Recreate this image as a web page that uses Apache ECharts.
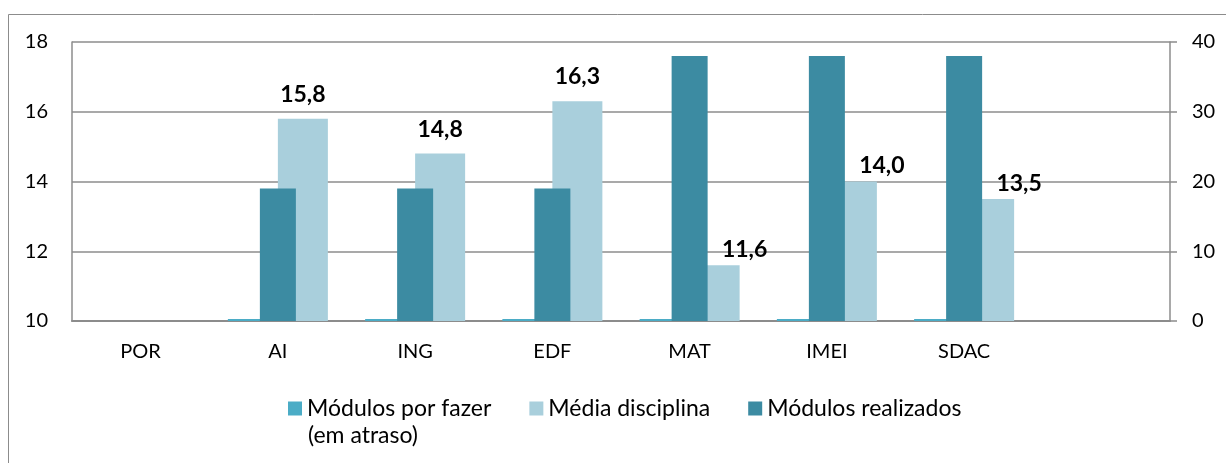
<!DOCTYPE html>
<html>
<head>
<meta charset="utf-8">
<script src="https://cdn.jsdelivr.net/npm/echarts@6/dist/echarts.min.js"></script>
<style>
  html, body { margin: 0; padding: 0; background: #fff; }
  #chart { width: 1226px; height: 463px; }
</style>
</head>
<body>
<div id="chart"></div>
<script>
const categories = ['POR', 'AI', 'ING', 'EDF', 'MAT', 'IMEI', 'SDAC', '']
const modulosPorFazer = [null, 0, 0, 0, 0, 0, 0, null]
const mediaDisciplina = [null, 15.8, 14.8, 16.3, 11.6, 14.0, 13.5, null]
const modulosRealizados = [null, 19, 19, 19, 38, 38, 38, null]
const leftTicks = { min: 10, max: 18, interval: 2 }
const rightTicks = { min: 0, max: 40, interval: 10 }

const FONT = 'Lato'
const GRID_COLOR = '#8c8c8c'

const chart = echarts.init(document.getElementById('chart'))

// labels of the light bars move right when the dark bar hides them
const mediaData = mediaDisciplina.map((v, i) => {
  if (v == null) return v
  const lightH = (v - leftTicks.min) / (leftTicks.max - leftTicks.min)
  const darkH = modulosRealizados[i] / rightTicks.max
  const hidden = darkH > lightH
  return {
    value: v,
    label: { offset: hidden ? [30, 1] : [0, -8] },
  }
})

const option = {
  animation: false,
  backgroundColor: '#fff',
  textStyle: { fontFamily: FONT },
  grid: { left: 72, right: 56, top: 42, bottom: 142 },
  legend: {
    left: 288,
    top: 397,
    padding: 0,
    itemWidth: 14,
    itemHeight: 14,
    itemGap: 38,
    icon: 'rect',
    data: ['Módulos por fazer (em atraso)', 'Média disciplina', 'Módulos realizados'],
    formatter: (name) => name.replace(' (em atraso)', ''),
    textStyle: { fontFamily: FONT, fontSize: 23, color: '#000' },
  },
  graphic: [
    {
      type: 'rect',
      shape: { x: 8.5, y: 14.5, width: 1400, height: 600 },
      style: { fill: 'none', stroke: '#8c8c8c', lineWidth: 1 },
      silent: true,
      z: -1,
    },
    {
      type: 'text',
      left: 308,
      top: 424,
      style: { text: '(em atraso)', font: '23px ' + FONT, fill: '#000' },
    },
  ],
  xAxis: [
    {
      type: 'category',
      data: categories,
      axisLine: { lineStyle: { color: GRID_COLOR, width: 2 } },
      axisTick: { show: false },
      axisLabel: { fontFamily: FONT, fontSize: 20, color: '#000', margin: 21 },
    },
    {
      type: 'category',
      data: categories,
      show: false,
    },
  ],
  yAxis: [
    {
      type: 'value',
      ...leftTicks,
      axisLine: { show: true, lineStyle: { color: GRID_COLOR, width: 1.5 } },
      axisTick: { show: false },
      splitLine: { lineStyle: { color: GRID_COLOR, width: 1.5 } },
      axisLabel: { fontFamily: FONT, fontSize: 20, color: '#000', margin: 24 },
    },
    {
      type: 'value',
      position: 'right',
      ...rightTicks,
      axisLine: { show: true, lineStyle: { color: GRID_COLOR, width: 1.5 } },
      axisTick: { show: true, length: 7, lineStyle: { color: GRID_COLOR, width: 1.5 } },
      splitLine: { show: false },
      axisLabel: { fontFamily: FONT, fontSize: 20, color: '#000', margin: 22 },
    },
  ],
  series: [
    {
      name: 'Módulos por fazer (em atraso)',
      type: 'bar',
      xAxisIndex: 0,
      yAxisIndex: 1,
      data: modulosPorFazer,
      barWidth: 50,
      barGap: '0%',
      barMinHeight: 2,
      clip: false,
      itemStyle: { color: '#4bacc6' },
    },
    {
      name: 'Média disciplina',
      type: 'bar',
      xAxisIndex: 0,
      yAxisIndex: 0,
      data: mediaData,
      barWidth: 50,
      barGap: '0%',
      itemStyle: { color: '#a9cfdc' },
      label: {
        show: true,
        position: 'top',
        fontFamily: FONT,
        fontWeight: 'bold',
        fontSize: 23,
        color: '#000',
        formatter: (p) => p.value.toFixed(1).replace('.', ','),
      },
    },
    {
      name: 'Módulos realizados',
      type: 'bar',
      xAxisIndex: 1,
      yAxisIndex: 1,
      data: modulosRealizados,
      barWidth: 36,
      itemStyle: { color: '#3c8ba2' },
    },
  ],
}

chart.setOption(option)
window.addEventListener('resize', () => chart.resize())
</script>
</body>
</html>
